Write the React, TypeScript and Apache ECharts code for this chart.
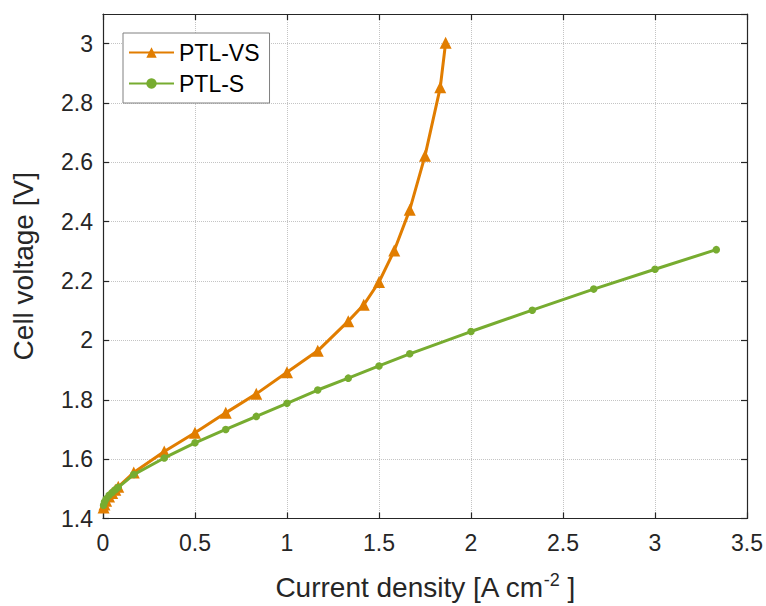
import React, { useEffect, useRef } from "react";
import * as echarts from "echarts";

const vsX = [0.003, 0.008, 0.017, 0.033, 0.05, 0.067, 0.083, 0.167, 0.333, 0.5, 0.667, 0.833, 1.0, 1.167, 1.333, 1.417, 1.5, 1.583, 1.667, 1.75, 1.833, 1.862];
const vsY = [1.437, 1.447, 1.46, 1.474, 1.486, 1.497, 1.507, 1.555, 1.626, 1.689, 1.756, 1.82, 1.893, 1.965, 2.065, 2.12, 2.197, 2.303, 2.44, 2.622, 2.853, 3.003];

const sX = [0.003, 0.008, 0.017, 0.033, 0.05, 0.067, 0.083, 0.167, 0.333, 0.5, 0.667, 0.833, 1.0, 1.167, 1.333, 1.5, 1.667, 2.0, 2.333, 2.667, 3.0, 3.333];
const sY = [1.445, 1.456, 1.466, 1.478, 1.488, 1.497, 1.505, 1.548, 1.604, 1.655, 1.7, 1.744, 1.788, 1.833, 1.873, 1.914, 1.955, 2.03, 2.102, 2.173, 2.24, 2.306];

const seriesNames = ["PTL-VS", "PTL-S"];
const colors = ["#E17D00", "#77AC30"];

const FONT = "'Liberation Sans', Arial, Helvetica, sans-serif";

export default function App() {
  const ref = useRef<HTMLDivElement>(null);
  useEffect(() => {
    document.body.style.margin = "0";
    const chart = echarts.init(ref.current!, null, { renderer: "svg" });
    const gridLine = { show: true, lineStyle: { color: "#c4c4c4", type: "dotted", width: 1 } };
    const axisLine = { show: true, onZero: false, lineStyle: { color: "#262626", width: 1.2 } };
    const axisTick = { show: true, inside: true, length: 6, lineStyle: { color: "#262626", width: 1.2 } };
    chart.setOption({
      animation: false,
      backgroundColor: "#ffffff",
      textStyle: { fontFamily: FONT },
      grid: { left: 103, right: 18, top: 14, bottom: 85, containLabel: false },
      legend: {
        left: 123,
        top: 33,
        orient: "vertical",
        padding: [8, 10, 8, 5],
        itemGap: 8,
        itemWidth: 45,
        itemHeight: 13,
        borderColor: "#808080",
        borderWidth: 1,
        backgroundColor: "#ffffff",
        textStyle: { fontSize: 23, color: "#000", fontFamily: FONT },
        data: seriesNames,
      },
      xAxis: [
        {
          type: "value",
          min: 0,
          max: 3.5,
          interval: 0.5,
          name: "{a|Current density [A cm}{sup|-2}{a| ]}",
          nameLocation: "middle",
          nameGap: 52,
          nameTextStyle: {
            rich: {
              a: { fontSize: 28, color: "#262626", fontFamily: FONT },
              sup: { fontSize: 18, color: "#262626", fontFamily: FONT, padding: [0, 0, 15, 0] },
            },
          },
          axisLine,
          axisTick,
          splitLine: gridLine,
          axisLabel: { fontSize: 23, color: "#262626", margin: 13, fontFamily: FONT },
        },
        {
          type: "value",
          position: "top",
          min: 0,
          max: 3.5,
          interval: 0.5,
          axisLine,
          axisTick,
          splitLine: { show: false },
          axisLabel: { show: false },
        },
      ],
      yAxis: [
        {
          type: "value",
          min: 1.4,
          max: 3.1,
          interval: 0.2,
          name: "Cell voltage [V]",
          nameLocation: "middle",
          nameGap: 66,
          nameTextStyle: { fontSize: 28, color: "#262626", fontFamily: FONT },
          axisLine,
          axisTick,
          splitLine: gridLine,
          axisLabel: {
            fontSize: 23,
            color: "#262626",
            margin: 10,
            fontFamily: FONT,
            showMaxLabel: false,
            formatter: (v: number) => (Math.abs(v - 3.1) < 1e-6 ? "" : String(Math.round(v * 10) / 10)),
          },
        },
        {
          type: "value",
          position: "right",
          min: 1.4,
          max: 3.1,
          interval: 0.2,
          axisLine,
          axisTick,
          splitLine: { show: false },
          axisLabel: { show: false },
        },
      ],
      series: [
        {
          name: seriesNames[0],
          type: "line",
          data: vsX.map((x, i) => [x, vsY[i]]),
          symbol: "triangle",
          symbolSize: 12,
          lineStyle: { color: colors[0], width: 3 },
          itemStyle: { color: colors[0] },
          z: 3,
        },
        {
          name: seriesNames[1],
          type: "line",
          data: sX.map((x, i) => [x, sY[i]]),
          symbol: "circle",
          symbolSize: 7.5,
          lineStyle: { color: colors[1], width: 3 },
          itemStyle: { color: colors[1] },
          z: 4,
        },
      ],
    });
    return () => chart.dispose();
  }, []);
  return <div ref={ref} style={{ width: 766, height: 606 }} />;
}
